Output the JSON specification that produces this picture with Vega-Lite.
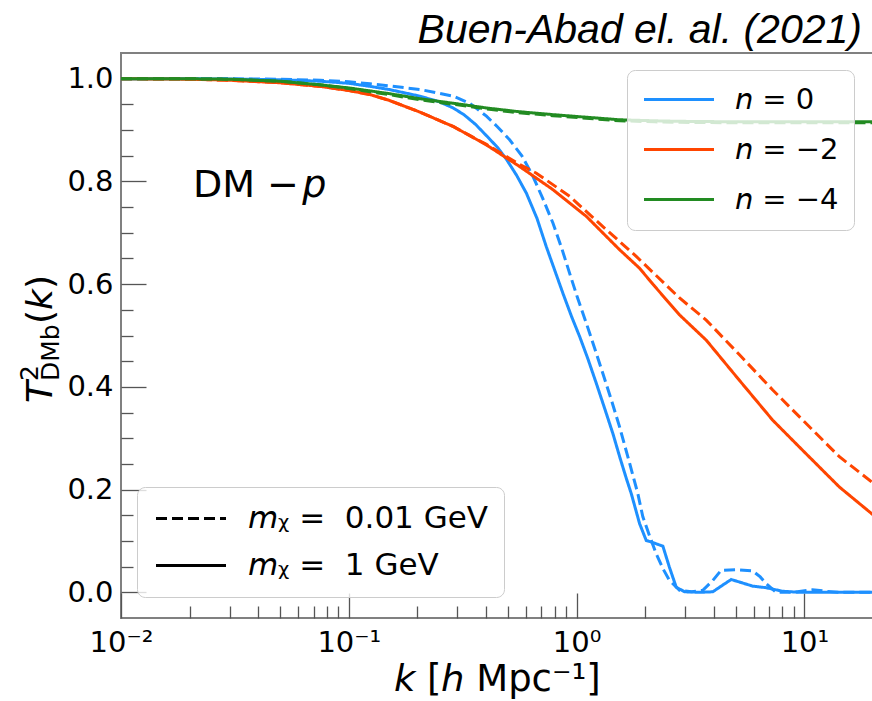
{
  "$schema": "https://vega.github.io/schema/vega-lite/v6.json",
  "width": 752,
  "height": 565,
  "autosize": {"type": "none"},
  "padding": {"left": 121, "top": 53, "right": 0, "bottom": 83},
  "background": "white",
  "config": {
    "view": {"stroke": "#808080", "strokeWidth": 2},
    "font": "DejaVu Sans",
    "legend": {"labelLimit": 600}
  },
  "title": {
    "text": "Buen-Abad el. al. (2021)",
    "anchor": "end",
    "font": "Liberation Sans",
    "fontStyle": "italic",
    "fontWeight": "normal",
    "fontSize": 41,
    "color": "black",
    "offset": 0,
    "baseline": "bottom",
    "dx": -11,
    "dy": 40
  },
  "datasets": {
    "curves": [
      {"k": 0.01, "T": 1.0, "n": "0", "m": "1"},
      {"k": 0.02, "T": 0.9998, "n": "0", "m": "1"},
      {"k": 0.03, "T": 0.9992, "n": "0", "m": "1"},
      {"k": 0.05, "T": 0.998, "n": "0", "m": "1"},
      {"k": 0.075, "T": 0.995, "n": "0", "m": "1"},
      {"k": 0.1, "T": 0.991, "n": "0", "m": "1"},
      {"k": 0.124, "T": 0.985, "n": "0", "m": "1"},
      {"k": 0.15, "T": 0.979, "n": "0", "m": "1"},
      {"k": 0.205, "T": 0.966, "n": "0", "m": "1"},
      {"k": 0.25, "T": 0.955, "n": "0", "m": "1"},
      {"k": 0.287, "T": 0.943, "n": "0", "m": "1"},
      {"k": 0.32, "T": 0.93, "n": "0", "m": "1"},
      {"k": 0.36, "T": 0.911, "n": "0", "m": "1"},
      {"k": 0.402, "T": 0.889, "n": "0", "m": "1"},
      {"k": 0.45, "T": 0.866, "n": "0", "m": "1"},
      {"k": 0.492, "T": 0.843, "n": "0", "m": "1"},
      {"k": 0.545, "T": 0.812, "n": "0", "m": "1"},
      {"k": 0.602, "T": 0.777, "n": "0", "m": "1"},
      {"k": 0.67, "T": 0.728, "n": "0", "m": "1"},
      {"k": 0.736, "T": 0.673, "n": "0", "m": "1"},
      {"k": 0.8, "T": 0.628, "n": "0", "m": "1"},
      {"k": 0.871, "T": 0.582, "n": "0", "m": "1"},
      {"k": 0.95, "T": 0.537, "n": "0", "m": "1"},
      {"k": 1.031, "T": 0.498, "n": "0", "m": "1"},
      {"k": 1.12, "T": 0.455, "n": "0", "m": "1"},
      {"k": 1.22, "T": 0.407, "n": "0", "m": "1"},
      {"k": 1.33, "T": 0.357, "n": "0", "m": "1"},
      {"k": 1.443, "T": 0.309, "n": "0", "m": "1"},
      {"k": 1.55, "T": 0.262, "n": "0", "m": "1"},
      {"k": 1.652, "T": 0.222, "n": "0", "m": "1"},
      {"k": 1.738, "T": 0.192, "n": "0", "m": "1"},
      {"k": 1.889, "T": 0.134, "n": "0", "m": "1"},
      {"k": 2.021, "T": 0.101, "n": "0", "m": "1"},
      {"k": 2.126, "T": 0.098, "n": "0", "m": "1"},
      {"k": 2.25, "T": 0.094, "n": "0", "m": "1"},
      {"k": 2.391, "T": 0.09, "n": "0", "m": "1"},
      {"k": 2.55, "T": 0.05, "n": "0", "m": "1"},
      {"k": 2.737, "T": 0.01, "n": "0", "m": "1"},
      {"k": 2.98, "T": 0.001, "n": "0", "m": "1"},
      {"k": 3.5, "T": 0.0, "n": "0", "m": "1"},
      {"k": 3.96, "T": 0.001, "n": "0", "m": "1"},
      {"k": 4.31, "T": 0.012, "n": "0", "m": "1"},
      {"k": 4.77, "T": 0.025, "n": "0", "m": "1"},
      {"k": 5.19, "T": 0.02, "n": "0", "m": "1"},
      {"k": 5.93, "T": 0.012, "n": "0", "m": "1"},
      {"k": 6.79, "T": 0.009, "n": "0", "m": "1"},
      {"k": 8.03, "T": 0.002, "n": "0", "m": "1"},
      {"k": 9.5, "T": 0.0, "n": "0", "m": "1"},
      {"k": 12, "T": 0.0, "n": "0", "m": "1"},
      {"k": 20, "T": 0.0, "n": "0", "m": "1"},

      {"k": 0.01, "T": 1.0, "n": "0", "m": "0.01"},
      {"k": 0.03, "T": 0.9998, "n": "0", "m": "0.01"},
      {"k": 0.05, "T": 0.999, "n": "0", "m": "0.01"},
      {"k": 0.075, "T": 0.997, "n": "0", "m": "0.01"},
      {"k": 0.1, "T": 0.994, "n": "0", "m": "0.01"},
      {"k": 0.124, "T": 0.99, "n": "0", "m": "0.01"},
      {"k": 0.15, "T": 0.986, "n": "0", "m": "0.01"},
      {"k": 0.205, "T": 0.979, "n": "0", "m": "0.01"},
      {"k": 0.287, "T": 0.966, "n": "0", "m": "0.01"},
      {"k": 0.34, "T": 0.952, "n": "0", "m": "0.01"},
      {"k": 0.402, "T": 0.927, "n": "0", "m": "0.01"},
      {"k": 0.45, "T": 0.906, "n": "0", "m": "0.01"},
      {"k": 0.508, "T": 0.881, "n": "0", "m": "0.01"},
      {"k": 0.575, "T": 0.85, "n": "0", "m": "0.01"},
      {"k": 0.643, "T": 0.81, "n": "0", "m": "0.01"},
      {"k": 0.71, "T": 0.767, "n": "0", "m": "0.01"},
      {"k": 0.787, "T": 0.719, "n": "0", "m": "0.01"},
      {"k": 0.86, "T": 0.67, "n": "0", "m": "0.01"},
      {"k": 0.932, "T": 0.621, "n": "0", "m": "0.01"},
      {"k": 1.01, "T": 0.573, "n": "0", "m": "0.01"},
      {"k": 1.103, "T": 0.524, "n": "0", "m": "0.01"},
      {"k": 1.2, "T": 0.475, "n": "0", "m": "0.01"},
      {"k": 1.304, "T": 0.426, "n": "0", "m": "0.01"},
      {"k": 1.42, "T": 0.375, "n": "0", "m": "0.01"},
      {"k": 1.544, "T": 0.322, "n": "0", "m": "0.01"},
      {"k": 1.7, "T": 0.255, "n": "0", "m": "0.01"},
      {"k": 1.857, "T": 0.192, "n": "0", "m": "0.01"},
      {"k": 1.953, "T": 0.147, "n": "0", "m": "0.01"},
      {"k": 2.09, "T": 0.11, "n": "0", "m": "0.01"},
      {"k": 2.236, "T": 0.075, "n": "0", "m": "0.01"},
      {"k": 2.4, "T": 0.045, "n": "0", "m": "0.01"},
      {"k": 2.558, "T": 0.023, "n": "0", "m": "0.01"},
      {"k": 2.831, "T": 0.004, "n": "0", "m": "0.01"},
      {"k": 3.2, "T": 0.001, "n": "0", "m": "0.01"},
      {"k": 3.58, "T": 0.004, "n": "0", "m": "0.01"},
      {"k": 3.96, "T": 0.023, "n": "0", "m": "0.01"},
      {"k": 4.31, "T": 0.043, "n": "0", "m": "0.01"},
      {"k": 5.02, "T": 0.044, "n": "0", "m": "0.01"},
      {"k": 5.93, "T": 0.0415, "n": "0", "m": "0.01"},
      {"k": 6.4, "T": 0.03, "n": "0", "m": "0.01"},
      {"k": 6.79, "T": 0.017, "n": "0", "m": "0.01"},
      {"k": 7.51, "T": 0.0, "n": "0", "m": "0.01"},
      {"k": 9.0, "T": 0.0, "n": "0", "m": "0.01"},
      {"k": 10.84, "T": 0.005, "n": "0", "m": "0.01"},
      {"k": 12.5, "T": 0.002, "n": "0", "m": "0.01"},
      {"k": 14, "T": 0.0, "n": "0", "m": "0.01"},
      {"k": 20, "T": 0.0, "n": "0", "m": "0.01"},

      {"k": 0.01, "T": 1.0, "n": "-2", "m": "1"},
      {"k": 0.02, "T": 0.999, "n": "-2", "m": "1"},
      {"k": 0.03, "T": 0.997, "n": "-2", "m": "1"},
      {"k": 0.05, "T": 0.992, "n": "-2", "m": "1"},
      {"k": 0.075, "T": 0.985, "n": "-2", "m": "1"},
      {"k": 0.1, "T": 0.977, "n": "-2", "m": "1"},
      {"k": 0.124, "T": 0.969, "n": "-2", "m": "1"},
      {"k": 0.15, "T": 0.958, "n": "-2", "m": "1"},
      {"k": 0.205, "T": 0.935, "n": "-2", "m": "1"},
      {"k": 0.287, "T": 0.907, "n": "-2", "m": "1"},
      {"k": 0.402, "T": 0.871, "n": "-2", "m": "1"},
      {"k": 0.562, "T": 0.829, "n": "-2", "m": "1"},
      {"k": 0.787, "T": 0.784, "n": "-2", "m": "1"},
      {"k": 1.103, "T": 0.732, "n": "-2", "m": "1"},
      {"k": 1.544, "T": 0.667, "n": "-2", "m": "1"},
      {"k": 1.889, "T": 0.631, "n": "-2", "m": "1"},
      {"k": 2.16, "T": 0.6, "n": "-2", "m": "1"},
      {"k": 2.831, "T": 0.54, "n": "-2", "m": "1"},
      {"k": 3.706, "T": 0.491, "n": "-2", "m": "1"},
      {"k": 5.2, "T": 0.412, "n": "-2", "m": "1"},
      {"k": 7.26, "T": 0.335, "n": "-2", "m": "1"},
      {"k": 10, "T": 0.273, "n": "-2", "m": "1"},
      {"k": 14.24, "T": 0.205, "n": "-2", "m": "1"},
      {"k": 20, "T": 0.151, "n": "-2", "m": "1"},

      {"k": 0.01, "T": 1.0, "n": "-2", "m": "0.01"},
      {"k": 0.02, "T": 0.999, "n": "-2", "m": "0.01"},
      {"k": 0.03, "T": 0.997, "n": "-2", "m": "0.01"},
      {"k": 0.05, "T": 0.992, "n": "-2", "m": "0.01"},
      {"k": 0.075, "T": 0.985, "n": "-2", "m": "0.01"},
      {"k": 0.1, "T": 0.977, "n": "-2", "m": "0.01"},
      {"k": 0.124, "T": 0.969, "n": "-2", "m": "0.01"},
      {"k": 0.15, "T": 0.958, "n": "-2", "m": "0.01"},
      {"k": 0.205, "T": 0.935, "n": "-2", "m": "0.01"},
      {"k": 0.287, "T": 0.907, "n": "-2", "m": "0.01"},
      {"k": 0.402, "T": 0.872, "n": "-2", "m": "0.01"},
      {"k": 0.562, "T": 0.833, "n": "-2", "m": "0.01"},
      {"k": 0.666, "T": 0.816, "n": "-2", "m": "0.01"},
      {"k": 0.932, "T": 0.771, "n": "-2", "m": "0.01"},
      {"k": 1.304, "T": 0.712, "n": "-2", "m": "0.01"},
      {"k": 1.827, "T": 0.654, "n": "-2", "m": "0.01"},
      {"k": 2.831, "T": 0.573, "n": "-2", "m": "0.01"},
      {"k": 3.706, "T": 0.53, "n": "-2", "m": "0.01"},
      {"k": 5.2, "T": 0.462, "n": "-2", "m": "0.01"},
      {"k": 7.26, "T": 0.394, "n": "-2", "m": "0.01"},
      {"k": 10, "T": 0.332, "n": "-2", "m": "0.01"},
      {"k": 14.24, "T": 0.264, "n": "-2", "m": "0.01"},
      {"k": 20, "T": 0.213, "n": "-2", "m": "0.01"},

      {"k": 0.01, "T": 1.0, "n": "-4", "m": "1"},
      {"k": 0.02, "T": 0.9998, "n": "-4", "m": "1"},
      {"k": 0.03, "T": 0.999, "n": "-4", "m": "1"},
      {"k": 0.05, "T": 0.995, "n": "-4", "m": "1"},
      {"k": 0.075, "T": 0.988, "n": "-4", "m": "1"},
      {"k": 0.1, "T": 0.982, "n": "-4", "m": "1"},
      {"k": 0.15, "T": 0.971, "n": "-4", "m": "1"},
      {"k": 0.205, "T": 0.961, "n": "-4", "m": "1"},
      {"k": 0.3, "T": 0.951, "n": "-4", "m": "1"},
      {"k": 0.402, "T": 0.943, "n": "-4", "m": "1"},
      {"k": 0.55, "T": 0.936, "n": "-4", "m": "1"},
      {"k": 0.787, "T": 0.93, "n": "-4", "m": "1"},
      {"k": 1.1, "T": 0.925, "n": "-4", "m": "1"},
      {"k": 1.544, "T": 0.92, "n": "-4", "m": "1"},
      {"k": 2.2, "T": 0.918, "n": "-4", "m": "1"},
      {"k": 2.831, "T": 0.917, "n": "-4", "m": "1"},
      {"k": 5, "T": 0.916, "n": "-4", "m": "1"},
      {"k": 10, "T": 0.916, "n": "-4", "m": "1"},
      {"k": 20, "T": 0.916, "n": "-4", "m": "1"},

      {"k": 0.01, "T": 1.0, "n": "-4", "m": "0.01"},
      {"k": 0.02, "T": 0.9998, "n": "-4", "m": "0.01"},
      {"k": 0.03, "T": 0.999, "n": "-4", "m": "0.01"},
      {"k": 0.05, "T": 0.995, "n": "-4", "m": "0.01"},
      {"k": 0.075, "T": 0.988, "n": "-4", "m": "0.01"},
      {"k": 0.1, "T": 0.981, "n": "-4", "m": "0.01"},
      {"k": 0.15, "T": 0.969, "n": "-4", "m": "0.01"},
      {"k": 0.205, "T": 0.959, "n": "-4", "m": "0.01"},
      {"k": 0.3, "T": 0.949, "n": "-4", "m": "0.01"},
      {"k": 0.402, "T": 0.941, "n": "-4", "m": "0.01"},
      {"k": 0.55, "T": 0.934, "n": "-4", "m": "0.01"},
      {"k": 0.787, "T": 0.928, "n": "-4", "m": "0.01"},
      {"k": 1.1, "T": 0.923, "n": "-4", "m": "0.01"},
      {"k": 1.544, "T": 0.918, "n": "-4", "m": "0.01"},
      {"k": 2.2, "T": 0.916, "n": "-4", "m": "0.01"},
      {"k": 2.831, "T": 0.915, "n": "-4", "m": "0.01"},
      {"k": 5, "T": 0.914, "n": "-4", "m": "0.01"},
      {"k": 10, "T": 0.914, "n": "-4", "m": "0.01"},
      {"k": 20, "T": 0.914, "n": "-4", "m": "0.01"}
    ]
  },
  "layer": [
    {
      "data": {"name": "curves"},
      "mark": {"type": "line", "strokeWidth": 3, "clip": true},
      "encoding": {
        "x": {
          "field": "k", "type": "quantitative",
          "scale": {"type": "log", "domain": [0.01, 20], "nice": false},
          "axis": {
            "orient": "bottom",
            "values": [0.01, 0.1, 1, 10],
            "labelExpr": "datum.value < 0.05 ? '10⁻²' : datum.value < 0.5 ? '10⁻¹' : datum.value < 5 ? '10⁰' : '10¹'",
            "tickSize": -25, "tickColor": "#555", "tickWidth": 1.3,
            "domain": false, "grid": false,
            "labelFont": "DejaVu Sans", "labelFontSize": 29, "labelColor": "black",
            "labelPadding": 35, "labelFlush": false, "labelOverlap": false, "labelBound": false,
            "title": "𝘬 [𝘩 Mpc⁻¹]",
            "titleFont": "DejaVu Sans", "titleFontSize": 37, "titleFontWeight": "normal", "titleColor": "black",
            "titlePadding": 4
          }
        },
        "y": {
          "field": "T", "type": "quantitative",
          "scale": {"domain": [-0.05, 1.05], "nice": false, "zero": false},
          "axis": {
            "orient": "left",
            "values": [0, 0.2, 0.4, 0.6, 0.8, 1.0],
            "format": ".1f",
            "tickSize": -25, "tickColor": "#555", "tickWidth": 1.3,
            "domain": false, "grid": false,
            "labelFont": "DejaVu Sans", "labelFontSize": 29, "labelColor": "black",
            "labelPadding": 33, "labelFlush": false, "labelOverlap": false,
            "title": null
          }
        },
        "color": {
          "field": "n", "type": "nominal",
          "scale": {"domain": ["0", "-2", "-4"], "range": ["#1E90FF", "#FF4500", "#228B22"]},
          "legend": {
            "orient": "none", "legendX": 506, "legendY": 17,
            "title": null,
            "symbolType": "M-1,0H4.6", "symbolSize": 625, "symbolStrokeWidth": 3,
            "labelFont": "DejaVu Sans", "labelFontSize": 29, "labelColor": "black",
            "labelOffset": 64, "rowPadding": 20, "padding": 15,
            "fillColor": "rgba(255,255,255,0.8)", "strokeColor": "#cccccc", "cornerRadius": 8,
            "labelExpr": "'𝘯 = ' + replace(datum.label, '-', '−')"
          }
        },
        "strokeDash": {
          "field": "m", "type": "nominal",
          "scale": {"domain": ["0.01", "1"], "range": [[11, 5], [1, 0]]},
          "legend": {
            "orient": "none", "legendX": 16, "legendY": 434,
            "title": null,
            "symbolType": "M-1,0H4.6", "symbolSize": 625, "symbolStrokeWidth": 3,
            "symbolStrokeColor": "black",
            "labelFont": "DejaVu Sans", "labelFontSize": 31, "labelColor": "black",
            "labelOffset": 64, "rowPadding": 15, "padding": 16,
            "fillColor": "rgba(255,255,255,0.8)", "strokeColor": "#cccccc", "cornerRadius": 8,
            "labelExpr": "'𝘮ᵪ = \u00a0' + datum.label + ' GeV'"
          }
        }
      }
    },
    {
      "mark": {"type": "rule", "color": "#333333", "strokeWidth": 1.5, "strokeDash": [1.5, 2.5]},
      "encoding": {
        "y": {"datum": 1, "type": "quantitative", "axis": null}
      }
    },
    {
      "data": {"values": [{"label": "DM −"}]},
      "mark": {"type": "text", "align": "left", "baseline": "alphabetic", "fontSize": 38, "font": "DejaVu Sans", "color": "black", "clip": false},
      "encoding": {
        "text": {"field": "label"},
        "x": {
          "datum": 0.0207, "type": "quantitative",
          "axis": {
            "orient": "bottom",
            "values": [0.02, 0.03, 0.04, 0.05, 0.06, 0.07, 0.08, 0.09, 0.2, 0.3, 0.4, 0.5, 0.6, 0.7, 0.8, 0.9, 2, 3, 4, 5, 6, 7, 8, 9],
            "tickSize": -12, "tickColor": "#555", "tickWidth": 1.3,
            "labels": false, "domain": false, "grid": false, "title": null
          }
        },
        "y": {
          "datum": 0.77, "type": "quantitative",
          "axis": {
            "orient": "left",
            "values": [0.05, 0.1, 0.15, 0.25, 0.3, 0.35, 0.45, 0.5, 0.55, 0.65, 0.7, 0.75, 0.85, 0.9, 0.95],
            "tickSize": -12, "tickColor": "#555", "tickWidth": 1.3,
            "labels": false, "domain": false, "grid": false, "title": null
          }
        }
      }
    },
    {
      "data": {"values": [{"label": "p"}]},
      "mark": {"type": "text", "align": "left", "baseline": "alphabetic", "fontSize": 38, "fontStyle": "italic", "font": "DejaVu Sans", "color": "black", "clip": false},
      "encoding": {
        "text": {"field": "label"},
        "x": {"datum": 0.0625, "type": "quantitative", "axis": null},
        "y": {"datum": 0.77, "type": "quantitative", "axis": null}
      }
    },
    {
      "data": {"values": [{"label": "T"}]},
      "mark": {"type": "text", "angle": 270, "align": "left", "baseline": "alphabetic", "fontSize": 36, "fontStyle": "italic", "font": "DejaVu Sans", "color": "black", "clip": false},
      "encoding": {
        "text": {"field": "label"},
        "x": {"datum": 0.00498, "type": "quantitative", "axis": null},
        "y": {"datum": 0.3686, "type": "quantitative", "axis": null}
      }
    },
    {
      "data": {"values": [{"label": "2"}]},
      "mark": {"type": "text", "angle": 270, "align": "left", "baseline": "alphabetic", "fontSize": 25, "font": "DejaVu Sans", "color": "black", "clip": false},
      "encoding": {
        "text": {"field": "label"},
        "x": {"datum": 0.004325, "type": "quantitative", "axis": null},
        "y": {"datum": 0.4114, "type": "quantitative", "axis": null}
      }
    },
    {
      "data": {"values": [{"label": "DMb"}]},
      "mark": {"type": "text", "angle": 270, "align": "left", "baseline": "alphabetic", "fontSize": 25, "font": "DejaVu Sans", "color": "black", "clip": false},
      "encoding": {
        "text": {"field": "label"},
        "x": {"datum": 0.005345, "type": "quantitative", "axis": null},
        "y": {"datum": 0.4114, "type": "quantitative", "axis": null}
      }
    },
    {
      "data": {"values": [{"label": "("}]},
      "mark": {"type": "text", "angle": 270, "align": "left", "baseline": "alphabetic", "fontSize": 36, "font": "DejaVu Sans", "color": "black", "clip": false},
      "encoding": {
        "text": {"field": "label"},
        "x": {"datum": 0.00498, "type": "quantitative", "axis": null},
        "y": {"datum": 0.5224, "type": "quantitative", "axis": null}
      }
    },
    {
      "data": {"values": [{"label": "k"}]},
      "mark": {"type": "text", "angle": 270, "align": "left", "baseline": "alphabetic", "fontSize": 36, "fontStyle": "italic", "font": "DejaVu Sans", "color": "black", "clip": false},
      "encoding": {
        "text": {"field": "label"},
        "x": {"datum": 0.00498, "type": "quantitative", "axis": null},
        "y": {"datum": 0.5496, "type": "quantitative", "axis": null}
      }
    },
    {
      "data": {"values": [{"label": ")"}]},
      "mark": {"type": "text", "angle": 270, "align": "left", "baseline": "alphabetic", "fontSize": 36, "font": "DejaVu Sans", "color": "black", "clip": false},
      "encoding": {
        "text": {"field": "label"},
        "x": {"datum": 0.00498, "type": "quantitative", "axis": null},
        "y": {"datum": 0.5905, "type": "quantitative", "axis": null}
      }
    }
  ],
  "resolve": {"axis": {"x": "independent", "y": "independent"}}
}
